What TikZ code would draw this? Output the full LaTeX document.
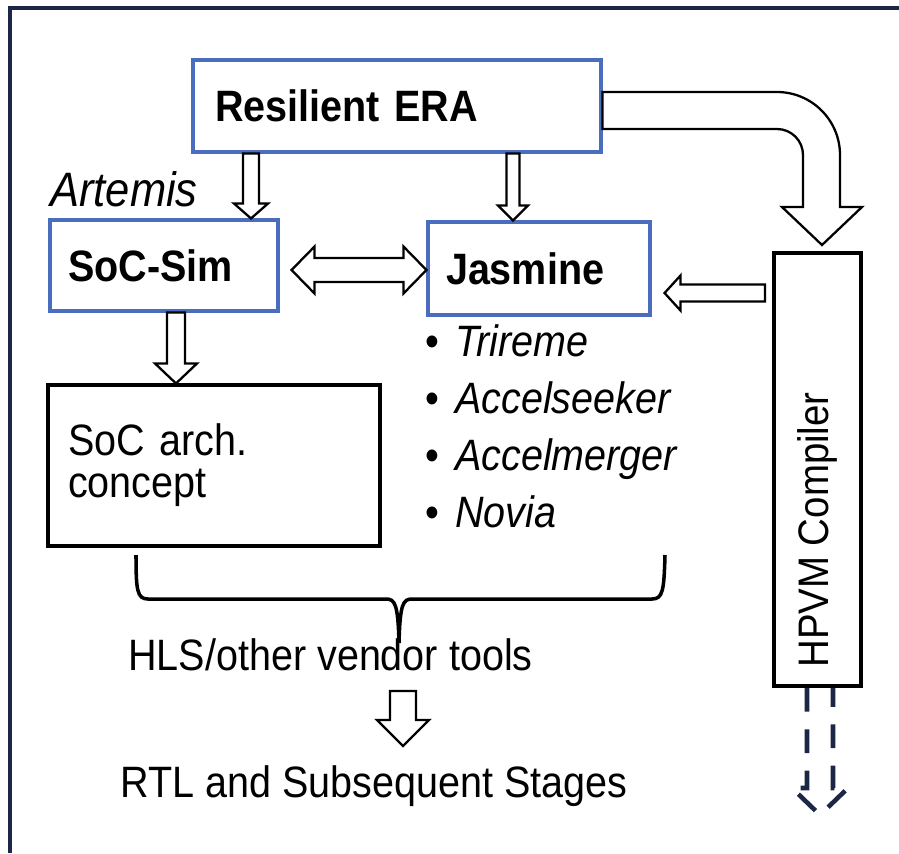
\documentclass[tikz,border=0pt]{standalone}
\usepackage{fontspec}
\setmainfont[FakeStretch=0.9]{Liberation Sans}
\usetikzlibrary{calc}
\definecolor{erablue}{HTML}{4A6EBD}
\definecolor{framenavy}{HTML}{1C2745}
\tikzset{
  bluebox/.style={draw=erablue, line width=1.8pt, align=left, font=\fontsize{25}{30}\selectfont\bfseries},
  blackbox/.style={draw=black, line width=1.8pt, align=left},
  blkarr/.style={draw=black, line width=1.3pt, fill=white, line join=miter},
  plain/.style={inner sep=0pt, anchor=base west},
}
\newcommand{\blkarrow}[5]{%
  \draw[blkarr] let \p1=(#1), \p2=(#2), \n1={veclen(\x2-\x1,\y2-\y1)},
    \n2={(\x2-\x1)/\n1}, \n3={(\y2-\y1)/\n1} in
    ({\x1-#3*\n3},{\y1+#3*\n2}) -- ({\x2-#5*\n2-#3*\n3},{\y2-#5*\n3+#3*\n2})
    -- ({\x2-#5*\n2-#4*\n3},{\y2-#5*\n3+#4*\n2}) -- (\p2)
    -- ({\x2-#5*\n2+#4*\n3},{\y2-#5*\n3-#4*\n2}) -- ({\x2-#5*\n2+#3*\n3},{\y2-#5*\n3-#3*\n2})
    -- ({\x1+#3*\n3},{\y1-#3*\n2}) -- cycle;}
\newcommand{\dblarrow}[5]{%
  \draw[blkarr] let \p1=(#1), \p2=(#2), \n1={veclen(\x2-\x1,\y2-\y1)},
    \n2={(\x2-\x1)/\n1}, \n3={(\y2-\y1)/\n1} in
    (\p1) -- ({\x1+#5*\n2-#4*\n3},{\y1+#5*\n3+#4*\n2}) -- ({\x1+#5*\n2-#3*\n3},{\y1+#5*\n3+#3*\n2})
    -- ({\x2-#5*\n2-#3*\n3},{\y2-#5*\n3+#3*\n2}) -- ({\x2-#5*\n2-#4*\n3},{\y2-#5*\n3+#4*\n2}) -- (\p2)
    -- ({\x2-#5*\n2+#4*\n3},{\y2-#5*\n3-#4*\n2}) -- ({\x2-#5*\n2+#3*\n3},{\y2-#5*\n3-#3*\n2})
    -- ({\x1+#5*\n2+#3*\n3},{\y1+#5*\n3-#3*\n2}) -- ({\x1+#5*\n2+#4*\n3},{\y1+#5*\n3-#4*\n2}) -- cycle;}

\begin{document}
\begin{tikzpicture}[x=0.02cm, y=-0.02cm, font=\fontsize{25}{30}\selectfont]
\useasboundingbox (0,0) rectangle (899,853);
\draw[framenavy, line width=2.3pt] (10,853) -- (10,8) -- (899,8);

\node[bluebox, text width=7.28cm, inner xsep=0.44cm, minimum height=1.84cm] (era) at (397,106) {Resilient ERA};
\node[bluebox, text width=3.84cm, inner xsep=0.36cm, minimum height=1.82cm] (sim) at (164,265.5) {SoC-Sim};
\node[bluebox, text width=3.72cm, inner xsep=0.36cm, minimum height=1.86cm] (jas) at (539,268.5) {Jasmine};
\node[blackbox, text width=5.84cm, inner xsep=0.4cm, minimum height=3.22cm, font=\fontsize{25}{24}\selectfont] (arch) at (214,465.5) {SoC arch.\\concept};
\node[blackbox, line width=2.3pt, minimum width=1.74cm, minimum height=8.66cm] (hpvm) at (817.5,469.5) {};
\node[inner sep=0pt, rotate=90, anchor=west, font=\fontsize{24.3}{30}\selectfont] (hpvmlbl) at (817,668) {HPVM Compiler};

\node[plain, font=\fontsize{27.5}{30}\selectfont\itshape] (artemis) at (50,206) {Artemis};
\foreach \t [count=\i] in {Trireme,Accelseeker,Accelmerger,Novia}
  \node[plain] (tool\i) at (425,{356+57.3*(\i-1)}) {\makebox[17pt][l]{\textbullet}\textit{\t}};
\node[plain] (hls) at (128,670) {HLS/other vendor tools};
\node[plain] (rtl) at (120,797) {RTL and Subsequent Stages};

\blkarrow{251,0 |- era.south}{251,0 |- sim.north}{4.55}{9.7}{8.5}
\blkarrow{513,0 |- era.south}{513,0 |- jas.north}{3.7}{8.5}{8.5}
\blkarrow{176,0 |- sim.south}{176,0 |- arch.north}{5.1}{12}{11.4}
\dblarrow{$(sim.east |- 0,270)+(12,0)$}{jas.west |- 0,270}{6.8}{13.4}{13.1}
\blkarrow{$(hpvm.west |- 0,293)+(-7,0)$}{$(jas.east |- 0,293)+(13,0)$}{4.8}{10}{9.1}
\coordinate (hlsout) at (403,691);
\coordinate (rtlin) at (403,746);
\blkarrow{hlsout}{rtlin}{7.4}{14.8}{14.8}

\draw[blkarr] (era.east |- 0,92) -- (777,92) arc (-90:0:63) -- (840,207) -- (862,207) -- (822,245)
  -- (782,207) -- (803,207) -- (803,155) arc (0:-90:26) -- (era.east |- 0,129) -- cycle;

\draw[framenavy, line width=2.6pt, dash pattern=on 13.5pt off 10pt] (807,0 |- hpvm.south) -- (807,788) -- (792,788)
  -- (820,815) -- (848,788) -- (833,788) -- (833,0 |- hpvm.south);

\draw[line width=2pt] (136,555) .. controls (136,590) and (137,599) .. (148,599) -- (386,599)
  .. controls (395,599) and (398,604) .. (399,643) .. controls (400,604) and (403,599) .. (412,599)
  -- (652,599) .. controls (663,599) and (664,590) .. (665,555);
\end{tikzpicture}
\end{document}
